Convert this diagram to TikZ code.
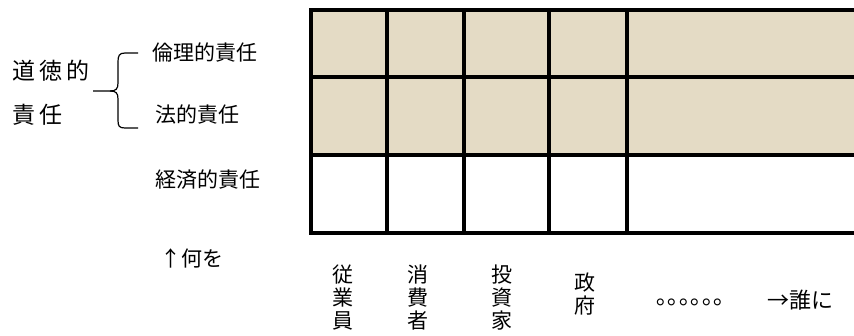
\documentclass[tikz,border=0pt]{standalone}
\usepackage{fontspec}
\newfontfamily\jp{Noto Sans CJK JP}
\newfontfamily\jpw[LetterSpace=18]{Noto Sans CJK JP}
\definecolor{burlap}{RGB}{228,219,197}
\begin{document}
\begin{tikzpicture}[x=1pt,y=-1pt,
  big/.style={font=\jpw\fontsize{23}{27}\selectfont, inner sep=0pt, anchor=west},
  lbl/.style={font=\jp\fontsize{21}{23}\selectfont, inner sep=0pt, anchor=west},
  vlbl/.style={font=\jp\fontsize{21}{23}\selectfont, inner sep=0pt, align=center},
  gridline/.style={line width=3.5pt, line cap=rect},
  bracepath/.style={line width=1.2pt}]
\useasboundingbox (0,0) rectangle (854,336);
% shaded rows
\fill[burlap] (311,10) rectangle (856,155);
% grid
\foreach \y in {10,77,155,233} \draw[gridline] (311,\y) -- (858,\y);
\foreach \x in {311,387,464,549,627} \draw[gridline] (\x,10) -- (\x,233);
% left labels
\node[big] (d1) at (12,71) {道徳的};
\node[big] (d2) at (12,115) {責任};
\node[lbl] (r1) at (152,53) {倫理的責任};
\node[lbl] (r2) at (155,115) {法的責任};
\node[lbl] (r3) at (155,180) {経済的責任};
\node[lbl] (what) at (160,258) {↑何を};
% brace
\coordinate (bt) at (138,53);
\coordinate (bm) at (93,91);
\coordinate (bb) at (138,128);
\draw[bracepath] (bt) -- (125,53) .. controls (119,53) and (118,56) .. (118,62) -- (118,83)
  .. controls (118,89) and (116,91) .. (110,91) -- (bm);
\draw[bracepath] (110,91) .. controls (116,91) and (118,93) .. (118,99) -- (118,120)
  .. controls (118,126) and (119,128) .. (125,128) -- (bb);
% bottom labels
\node[vlbl] (c1) at (343,298) {従\\業\\員};
\node[vlbl] (c2) at (418,298) {消\\費\\者};
\node[vlbl] (c3) at (502,298) {投\\資\\家};
\node[vlbl] (c4) at (585,294) {政\\府};
\node[lbl, font=\jp\fontsize{23}{23}\selectfont] (dots) at (656,302) {｡｡｡｡｡｡};
\node[lbl, font=\jp\fontsize{22}{23}\selectfont] (who) at (767,300) {→誰に};
\end{tikzpicture}
\end{document}
